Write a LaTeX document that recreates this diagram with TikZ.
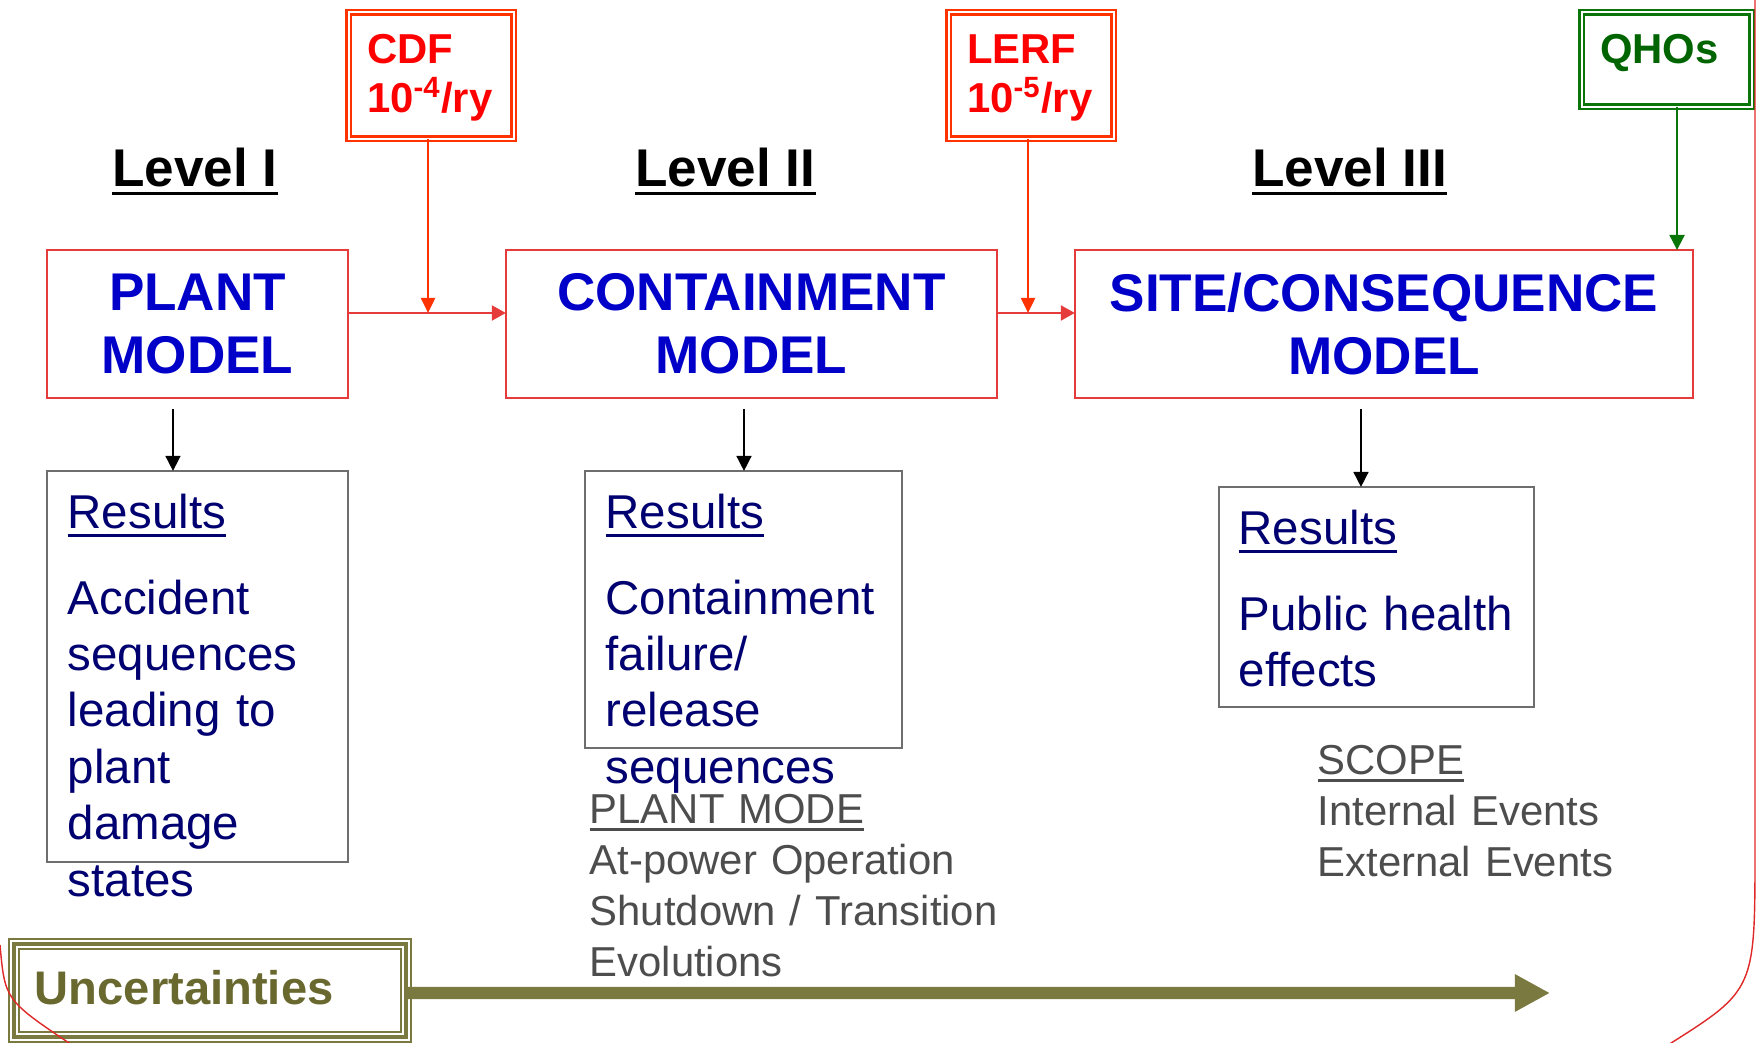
\documentclass[tikz,border=0pt]{standalone}
\usepackage{fontspec}
\setmainfont{Liberation Sans}
\usetikzlibrary{arrows.meta}
\definecolor{modelred}{HTML}{E53B3B}
\definecolor{limred}{HTML}{FF3300}
\definecolor{modelblue}{HTML}{0000C8}
\definecolor{resnavy}{HTML}{000070}
\definecolor{notegray}{HTML}{4D4D4D}
\definecolor{resframe}{HTML}{6E6E6E}
\definecolor{qgreen}{HTML}{0A760A}
\definecolor{qtext}{HTML}{006400}
\definecolor{olivebar}{HTML}{7A7A40}
\definecolor{olivetext}{HTML}{68682F}
\definecolor{arcred}{HTML}{E02828}
\newsavebox{\ulbox}
\newcommand{\ulx}[1]{\leavevmode\sbox{\ulbox}{#1}\rlap{\rule[-0.16em]{\wd\ulbox}{0.065em}}\usebox{\ulbox}}

\begin{document}
\begin{tikzpicture}[x=0.01cm, y=-0.01cm,
model/.style = {draw=modelred, line width=0.6pt, text=modelblue, align=center,
  inner sep=0pt, outer sep=0pt, minimum height=1.48cm,
  font=\fontsize{15.1}{17.9}\selectfont\bfseries},
limit/.style = {draw=limred, text=red, double, double distance=0.02cm,
  line width=0.025cm, outer sep=0pt, anchor=north west, align=left,
  inner xsep=0.185cm, inner ysep=0.205cm, text width=1.28cm,
  text height=0.30cm, text depth=0.55cm,
  font=\fontsize{11.9}{14.2}\selectfont\bfseries},
lvltitle/.style = {anchor=base, inner sep=0pt,
  font=\fontsize{15.1}{18}\selectfont\bfseries},
resbox/.style = {draw=resframe, line width=0.5pt, inner sep=0pt, outer sep=0pt},
restext/.style = {anchor=base west, inner sep=0pt, align=left, text width=2.9cm,
  text=resnavy, font=\fontsize{13.5}{16.05}\selectfont},
note/.style = {anchor=base west, inner sep=0pt, align=left, text width=4.5cm,
  text=notegray, font=\fontsize{11.9}{14.5}\selectfont},
unc/.style = {draw=olivebar, line width=0.12cm, fill=white,
  postaction={draw=white, line width=0.08cm},
  postaction={draw=olivebar, line width=0.04cm},
  text=olivetext, align=left, text width=3.50cm, inner xsep=0.21cm,
  inner ysep=0pt, text depth=0.06cm, minimum width=3.92cm, minimum height=0.93cm,
  outer sep=0pt, font=\fontsize{13.4}{16}\selectfont\bfseries},
redline/.style = {draw=modelred, line width=0.6pt, -{Triangle[length=0.14cm, width=0.15cm]}},
limarrow/.style = {draw=limred, line width=0.6pt, -{Triangle[length=0.15cm, width=0.14cm]}},
qarrow/.style = {draw=qgreen, line width=0.6pt, -{Triangle[length=0.15cm, width=0.15cm]}},
resarrow/.style = {draw=black, line width=0.45pt, -{Triangle[length=0.15cm, width=0.15cm]}},
uncarrow/.style = {draw=olivebar, line width=0.12cm, -{Triangle[length=0.35cm, width=0.35cm]}},
deco/.style = {draw=arcred, line width=0.4pt}
]
\useasboundingbox (0,0) rectangle (1756,1043);

\node[model, minimum width=3.01cm] (plant) at (197.5,324) {PLANT\\MODEL};
\node[model, minimum width=4.91cm] (cont) at (751.5,324) {CONTAINMENT\\MODEL};
\node[model, minimum width=6.18cm] (site) at (1384,324) {SITE/CONSEQUENCE\\MODEL};

\node[limit] (cdf) at (348.5,12.5) {CDF\\10\textsuperscript{-4}/ry};
\node[limit] (lerf) at (948.5,12.5) {LERF\\10\textsuperscript{-5}/ry};
\node[limit, draw=qgreen, text=qtext, text width=1.33cm, text depth=0.23cm]
  (qho) at (1581.5,12.5) {QHOs};

\node[lvltitle] (lvlI) at (195,187) {\ulx{Level I}};
\node[lvltitle] (lvlII) at (725.5,187) {\ulx{Level II}};
\node[lvltitle] (lvlIII) at (1349.5,187) {\ulx{Level III}};

\coordinate (jI) at ([yshift=0.11cm]plant.east);
\coordinate (jII) at ([yshift=0.11cm]cont.east);
\draw[redline] (jI) -- (jI -| cont.west);
\draw[redline] (jII) -- (jII -| site.west);
\coordinate (cI) at ([xshift=-0.03cm]cdf.south);
\coordinate (cII) at ([xshift=-0.03cm]lerf.south);
\draw[limarrow] (cI) -- (cI |- jI);
\draw[limarrow] (cII) -- (cII |- jII);
\coordinate (cIII) at ([xshift=0.105cm]qho.south);
\draw[qarrow] (cIII) -- (cIII |- site.north);

\node[resbox, minimum width=3.01cm, minimum height=3.91cm] (resI) at (197.5,666.5) {};
\node[resbox, minimum width=3.17cm, minimum height=2.77cm] (resII) at (743.5,609.5) {};
\node[resbox, minimum width=3.15cm, minimum height=2.20cm] (resIII) at (1376.5,597) {};

\coordinate (dI) at ([xshift=-0.245cm, yshift=-0.11cm]plant.south);
\coordinate (dII) at ([xshift=-0.075cm, yshift=-0.11cm]cont.south);
\coordinate (dIII) at ([xshift=-0.23cm, yshift=-0.11cm]site.south);
\draw[resarrow] (dI) -- (dI |- resI.north);
\draw[resarrow] (dII) -- (dII |- resII.north);
\draw[resarrow] (dIII) -- (dIII |- resIII.north);

\node[restext] (txtI) at (67,529) {\ulx{Results}\\[0.286cm]Accident\\sequences\\leading to\\plant\\damage\\states};
\node[restext] (txtII) at (605,529) {\ulx{Results}\\[0.286cm]Containment\\failure/\\release\\sequences};
\node[restext] (txtIII) at (1238,545) {\ulx{Results}\\[0.286cm]Public health\\effects};

\node[note] (mode) at (589,824) {\ulx{PLANT MODE}\\At-power Operation\\Shutdown / Transition\\Evolutions};
\node[note] (scope) at (1317,775) {\ulx{SCOPE}\\Internal Events\\External Events};

\node[unc] (uncbox) at (210,990.5) {Uncertainties};
\coordinate (uncstart) at ([yshift=-0.025cm]uncbox.east);
\coordinate (uncend) at (1550,993);
\draw[uncarrow] (uncstart) -- (uncend);

\draw[deco] (1755,0) -- (1755,850) .. controls (1755,990) .. (1668,1045);
\draw[deco] (0,945) .. controls (5,1000) .. (72,1045);
\end{tikzpicture}
\end{document}
